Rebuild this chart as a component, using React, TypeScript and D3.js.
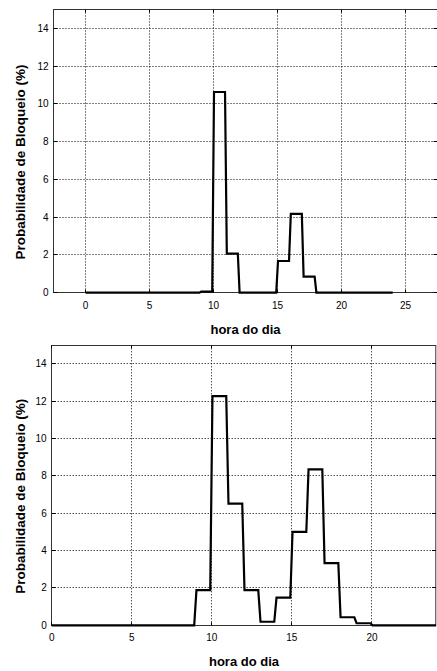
import React from 'react';
import * as d3 from 'd3';

// hourly blocking probability (%), one value per hour 0..23
const hours = [0, 1, 2, 3, 4, 5, 6, 7, 8, 9, 10, 11, 12, 13, 14, 15, 16, 17, 18, 19, 20, 21, 22, 23];
const topValues = [0, 0, 0, 0, 0, 0, 0, 0, 0, 0.06, 10.63, 2.07, 0, 0, 0, 1.68, 4.18, 0.85, 0, 0, 0, 0, 0, 0];
const bottomValues = [0, 0, 0, 0, 0, 0, 0, 0, 0, 1.88, 12.28, 6.52, 1.88, 0.19, 1.48, 5.0, 8.35, 3.33, 0.43, 0.11, 0, 0, 0, 0];

const topXTicks = [0, 5, 10, 15, 20, 25];
const bottomXTicks = [0, 5, 10, 15, 20];
const yTicks = [0, 2, 4, 6, 8, 10, 12, 14];

const yTitle = 'Probabilidade de Bloqueio (%)';
const xTitle = 'hora do dia';

type PanelProps = {
  values: number[];
  xDomain: [number, number];
  xTicks: number[];
  left: number;
  right: number;
  top: number;
  bottom: number;
  titleX: number;
};

function stepPoints(values: number[]) {
  // each hour holds its value, with a short slanted transition to the next one
  const pts: [number, number][] = [[0, values[0]]];
  hours.forEach((h, i) => {
    if (i > 0) pts.push([h + 0.04, values[i]]);
    pts.push([h + 0.9, values[i]]);
  });
  pts.push([24, values[values.length - 1]]);
  return pts;
}

// snap a coordinate onto a pixel centre so 1px dotted lines stay crisp
const crisp = (v: number) => Math.round(v - 0.5) + 0.5;

function Panel(props: PanelProps) {
  const { values, xDomain, xTicks, left, right, top, bottom, titleX } = props;
  const x = d3.scaleLinear().domain(xDomain).range([left, right]);
  const y = d3.scaleLinear().domain([0, 15]).range([bottom, top]);
  const line = d3.line<[number, number]>()
    .x(d => x(d[0]))
    .y(d => y(d[1]));
  const pts = stepPoints(values);
  const font = '"Liberation Sans", Arial, sans-serif';

  return (
    <g>
      {/* grid */}
      {xTicks.map(t => (
        <line key={'gx' + t} x1={crisp(x(t))} x2={crisp(x(t))} y1={top} y2={bottom}
          stroke="#000" strokeWidth={1} strokeDasharray="1,2" />
      ))}
      {yTicks.filter(t => t > 0).map(t => (
        <line key={'gy' + t} x1={left} x2={right} y1={crisp(y(t))} y2={crisp(y(t))}
          stroke="#000" strokeWidth={1} strokeDasharray="1,2" />
      ))}
      {/* frame */}
      <rect x={crisp(left)} y={crisp(top)} width={right - left} height={crisp(bottom) - crisp(top)}
        fill="none" stroke="#333" strokeWidth={1} />
      {/* inward ticks */}
      {xTicks.map(t => (
        <g key={'tx' + t}>
          <line x1={crisp(x(t))} x2={crisp(x(t))} y1={bottom} y2={bottom - 3} stroke="#000" />
          <line x1={crisp(x(t))} x2={crisp(x(t))} y1={top} y2={top + 3} stroke="#000" />
          <text x={x(t)} y={bottom + 16} textAnchor="middle" fontFamily={font} fontSize={10}>{t}</text>
        </g>
      ))}
      {yTicks.map(t => (
        <g key={'ty' + t}>
          <line x1={left} x2={left + 4} y1={crisp(y(t))} y2={crisp(y(t))} stroke="#000" />
          <line x1={right} x2={right - 4} y1={crisp(y(t))} y2={crisp(y(t))} stroke="#000" />
          <text x={left - 5} y={y(t) + 3.5} textAnchor="end" fontFamily={font} fontSize={10}>{t}</text>
        </g>
      ))}
      {/* series */}
      <path d={line(pts) || ''} fill="none" stroke="#000" strokeWidth={2.2} strokeLinejoin="miter" />
      {/* titles */}
      <text x={titleX} y={bottom + 41} textAnchor="middle" fontFamily={font}
        fontSize={13} fontWeight="bold">{xTitle}</text>
      <text transform={`translate(24.5,${(top + bottom) / 2 + 11}) rotate(-90)`} textAnchor="middle"
        fontFamily={font} fontSize={13.5} fontWeight="bold">{yTitle}</text>
    </g>
  );
}

export default function App() {
  return (
    <svg width={437} height={671} style={{ position: 'absolute', left: 0, top: 0, background: '#fff' }}>
      <rect width={437} height={671} fill="#fff" />
      <Panel values={topValues} xDomain={[-2.5, 27.5]} xTicks={topXTicks}
        left={53.5} right={437.5} top={9.5} bottom={292.7} titleX={245.5} />
      <Panel values={bottomValues} xDomain={[0, 24]} xTicks={bottomXTicks}
        left={51.7} right={436} top={345.3} bottom={625.3} titleX={244} />
    </svg>
  );
}
